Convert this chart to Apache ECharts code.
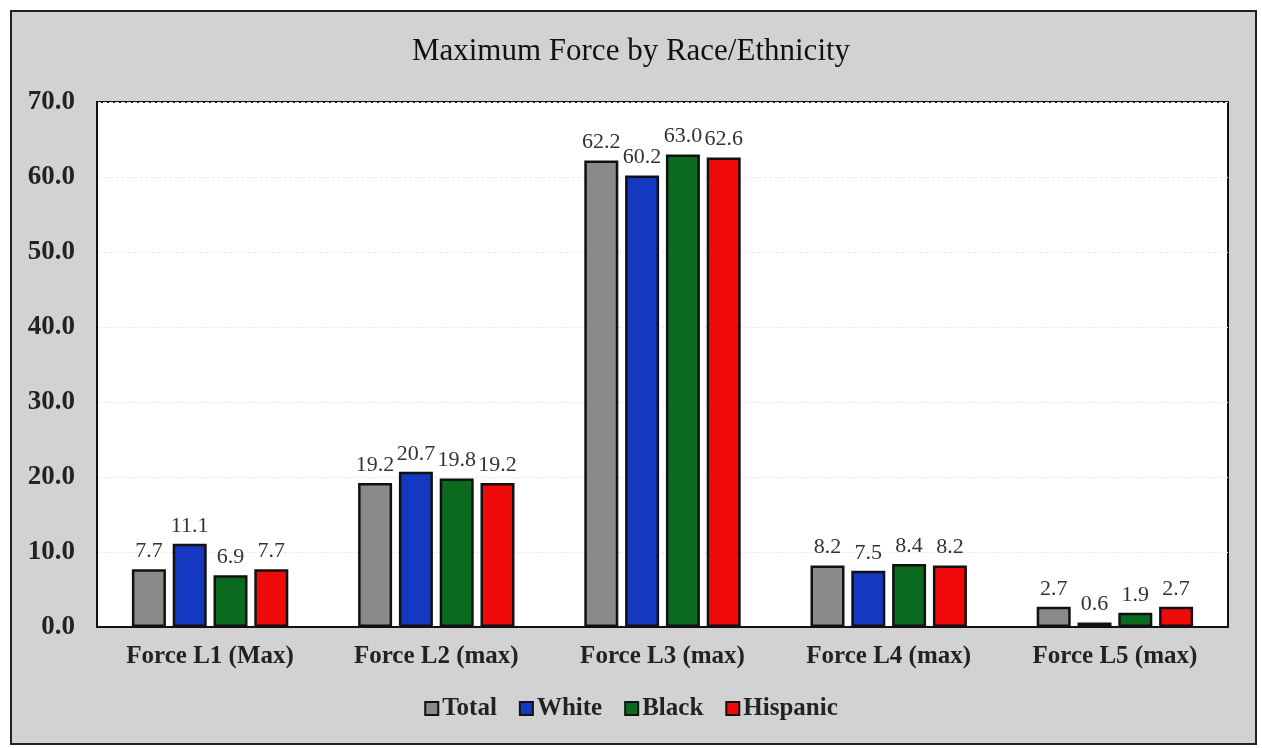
<!DOCTYPE html>
<html>
<head>
<meta charset="utf-8">
<script src="https://cdn.jsdelivr.net/npm/echarts@6/dist/echarts.min.js"></script>
<style>
html,body{margin:0;padding:0;background:#fff;}
#c{width:1262px;height:748px;}
</style>
</head>
<body>
<div id="c"></div>
<script>
const categories = ['Force L1 (Max)', 'Force L2 (max)', 'Force L3 (max)', 'Force L4 (max)', 'Force L5 (max)'];
const totalValues = [7.7, 19.2, 62.2, 8.2, 2.7];
const whiteValues = [11.1, 20.7, 60.2, 7.5, 0.6];
const blackValues = [6.9, 19.8, 63.0, 8.4, 1.9];
const hispanicValues = [7.7, 19.2, 62.6, 8.2, 2.7];
const seriesNames = ['Total', 'White', 'Black', 'Hispanic'];
const seriesColors = ['#8a8a8a', '#1438c0', '#0a6a1e', '#f00a0a'];

const font = '"Liberation Serif", "Times New Roman", serif';
const chart = echarts.init(document.getElementById('c'));

function mk(name, data, color) {
  return {
    name: name,
    type: 'bar',
    data: data,
    barWidth: 34,
    barGap: '20%',
    itemStyle: { color: color, borderColor: '#111', borderWidth: 2.5 },
    label: {
      show: true, position: 'top', distance: 7,
      formatter: p => p.value.toFixed(1),
      fontFamily: font, fontSize: 22, color: '#333'
    }
  };
}

chart.setOption({
  backgroundColor: '#fff',
  animation: false,
  graphic: [{
    type: 'rect', z: -10,
    shape: { x: 11, y: 11, width: 1245, height: 733 },
    style: { fill: '#d2d2d2', stroke: '#222', lineWidth: 2 }
  }],
  title: {
    text: 'Maximum Force by Race/Ethnicity',
    left: 'center', top: 31,
    textStyle: { fontFamily: font, fontSize: 31, fontWeight: 'normal', color: '#111' }
  },
  legend: {
    data: seriesNames,
    bottom: 22, left: 'center',
    itemWidth: 13, itemHeight: 13, itemGap: 22,
    icon: 'rect',
    textStyle: { fontFamily: font, fontSize: 25, fontWeight: 'bold', color: '#222', padding: [0, 0, 0, -1] }
  },
  grid: {
    left: 97, right: 34, top: 102, bottom: 121,
    show: true, backgroundColor: '#fff', borderColor: '#111', borderWidth: 2,
    containLabel: false
  },
  xAxis: {
    type: 'category',
    data: categories,
    axisLine: { show: true, lineStyle: { color: '#111', width: 2 } },
    axisTick: { show: false },
    axisLabel: { interval: 0, fontFamily: font, fontSize: 25, fontWeight: 'bold', color: '#222', margin: 17 }
  },
  yAxis: {
    type: 'value',
    min: 0, max: 70, interval: 10,
    axisLine: { show: true, lineStyle: { color: '#111', width: 2 } },
    axisTick: { show: false },
    splitLine: { show: true, lineStyle: { color: '#ececec', type: 'dashed', width: 1 } },
    axisLabel: { fontFamily: font, fontSize: 27, fontWeight: 'bold', color: '#222', margin: 22, formatter: v => v.toFixed(1) }
  },
  series: [
    mk(seriesNames[0], totalValues, seriesColors[0]),
    mk(seriesNames[1], whiteValues, seriesColors[1]),
    mk(seriesNames[2], blackValues, seriesColors[2]),
    mk(seriesNames[3], hispanicValues, seriesColors[3])
  ]
});
</script>
</body>
</html>
